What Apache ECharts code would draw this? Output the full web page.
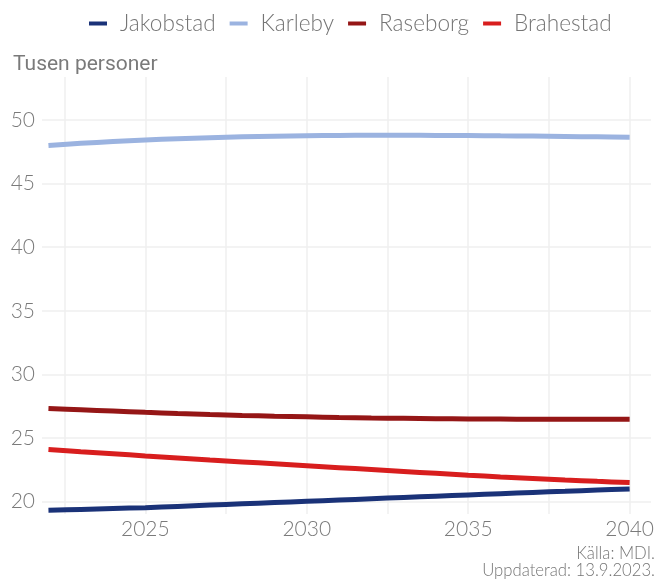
<!DOCTYPE html>
<html>
<head>
<meta charset="utf-8">
<script src="https://cdn.jsdelivr.net/npm/echarts@6/dist/echarts.min.js"></script>
<style>
html,body{margin:0;padding:0;background:#fff;}
#chart{width:657px;height:581px;}
</style>
</head>
<body>
<div id="chart"></div>
<script>
const years = [2022,2023,2024,2025,2026,2027,2028,2029,2030,2031,2032,2033,2034,2035,2036,2037,2038,2039,2040];
const jakobstad = [19.29,19.36,19.43,19.5,19.6,19.7,19.8,19.9,20.0,20.1,20.2,20.3,20.4,20.5,20.6,20.7,20.79,20.88,20.97];
const karleby = [48.0,48.18,48.32,48.44,48.54,48.62,48.69,48.74,48.78,48.8,48.81,48.81,48.8,48.79,48.77,48.75,48.72,48.69,48.66];
const raseborg = [27.3,27.2,27.1,27.0,26.91,26.83,26.76,26.7,26.65,26.6,26.56,26.53,26.5,26.48,26.47,26.46,26.45,26.45,26.45];
const brahestad = [24.07,23.9,23.74,23.57,23.41,23.25,23.1,22.95,22.8,22.65,22.5,22.35,22.2,22.05,21.92,21.8,21.68,21.57,21.47];
const seriesNames = ['Jakobstad','Karleby','Raseborg','Brahestad'];
const seriesColors = ['#1a3278','#9bb3e0','#951616','#d81e1e'];
const yTicks = [20,25,30,35,40,45,50];
const xLabelTicks = [2025,2030,2035,2040];
const xGridTicks = [2022.5,2025,2027.5,2030,2032.5,2035,2037.5,2040];
const yTitle = 'Tusen personer';
const caption = ['Källa: MDI.','Uppdaterad: 13.9.2023.'];

const allData = [jakobstad, karleby, raseborg, brahestad];
const FONT = 'Lato';
const chart = echarts.init(document.getElementById('chart'), null, {renderer:'canvas'});
chart.setOption({
  animation:false,
  backgroundColor:'#ffffff',
  color: seriesColors,
  legend:{
    top: 7, left: 84,
    itemWidth: 18, itemHeight: 4, itemGap: 14,
    icon: 'rect',
    data: seriesNames,
    textStyle:{fontFamily:FONT, fontWeight:300, fontSize:22.6, color:'#757575', padding:[0,0,0,8]}
  },
  title:{
    text: yTitle, left: 8, top: 49,
    textStyle:{fontFamily:'Roboto', fontWeight:400, fontSize:21, color:'#7a7a7a'}
  },
  graphic:[
    {type:'text', right: 2, top: 545, style:{text: caption[0], font:'300 16.7px Lato', fill:'#757575', textAlign:'right'}},
    {type:'text', right: 2, top: 562, style:{text: caption[1], font:'300 16.7px Lato', fill:'#757575', textAlign:'right'}}
  ],
  grid:{left:42, right:4, top:77, bottom:67, containLabel:false},
  xAxis:{
    type:'value', min:2021.8, max:2040.66,
    axisLine:{show:false},
    axisTick:{show:false, customValues: xGridTicks},
    axisLabel:{customValues: xLabelTicks, fontFamily:FONT, fontWeight:300, fontSize:21, color:'#7a7a7a', margin:5, formatter: v => String(v)},
    splitLine:{show:true, lineStyle:{color:'#efefef', width:1.5}}
  },
  yAxis:{
    type:'value', min:19.0, max:53.4,
    axisLine:{show:false},
    axisTick:{show:false, customValues: yTicks},
    axisLabel:{customValues: yTicks, fontFamily:FONT, fontWeight:300, fontSize:21, color:'#7a7a7a', margin:7},
    splitLine:{show:true, lineStyle:{color:'#efefef', width:1.5}}
  },
  series: seriesNames.map((n,i)=>({
    name:n, type:'line', showSymbol:false, smooth:0.3,
    data: years.map((y,j)=>[y, allData[i][j]]),
    lineStyle:{width:5, color:seriesColors[i], cap:'butt'},
    itemStyle:{color:seriesColors[i]},
    clip:false
  }))
});
</script>
</body>
</html>
